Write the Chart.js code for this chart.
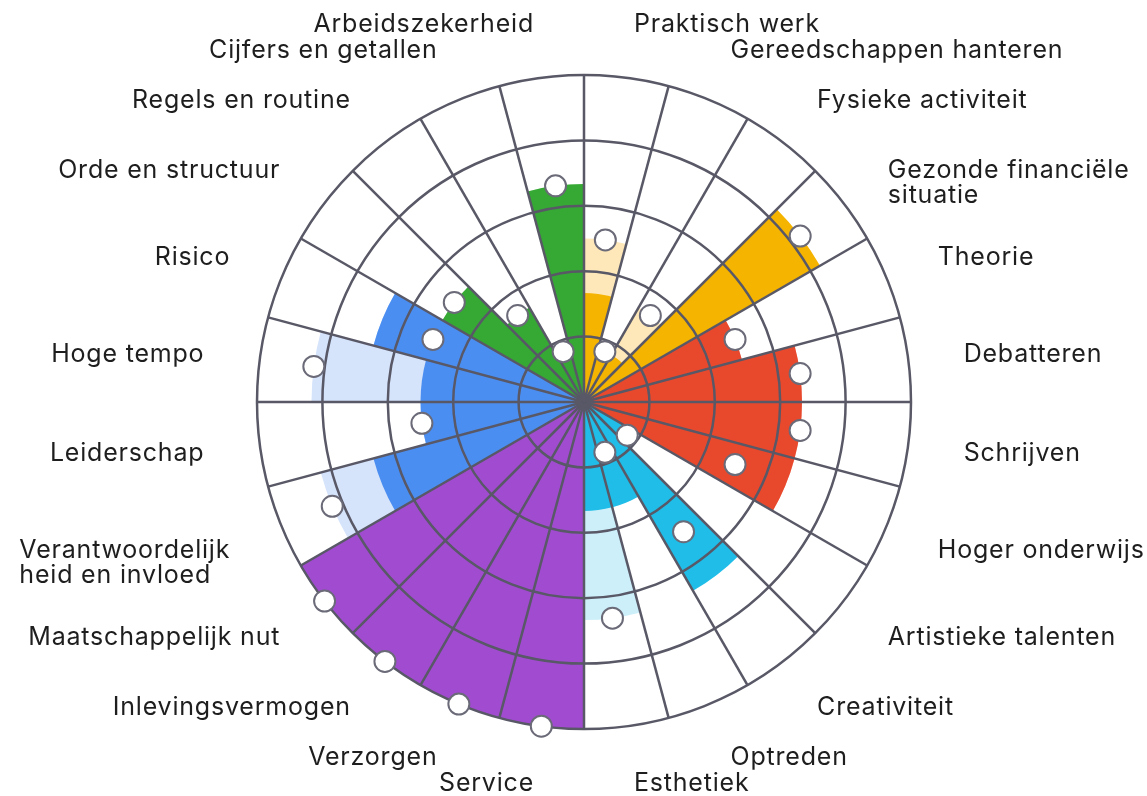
<!DOCTYPE html>
<html>
<head>
<meta charset="utf-8">
<script src="https://cdn.jsdelivr.net/npm/chart.js@4.4.1/dist/chart.umd.min.js"></script>
<style>
  html, body { margin: 0; padding: 0; background: #ffffff; }
  canvas { display: block; }
</style>
</head>
<body>
<canvas id="chart" width="1147" height="796"></canvas>
<script>
// Categories, clockwise from 12 o'clock
const categories = [
  'Praktisch werk', 'Gereedschappen hanteren', 'Fysieke activiteit', ['Gezonde financiële', 'situatie'],
  'Theorie', 'Debatteren', 'Schrijven', 'Hoger onderwijs',
  'Artistieke talenten', 'Creativiteit', 'Optreden', 'Esthetiek',
  'Service', 'Verzorgen', 'Inlevingsvermogen', 'Maatschappelijk nut',
  ['Verantwoordelijk', 'heid en invloed'], 'Leiderschap', 'Hoge tempo', 'Risico',
  'Orde en structuur', 'Regels en routine', 'Cijfers en getallen', 'Arbeidszekerheid'
];
// Scores on a 0-6 scale
const coreValues     = [2, 1, 1, 5, 3, 4, 4, 4, 1, 4, 2, 2, 6, 6, 6, 6, 4, 3, 3, 4, 3, 2, 1, 4];
const extendedValues = [3, 1, 2, 5, 3, 4, 4, 4, 1, 4, 2, 4, 6, 6, 6, 6, 5, 3, 5, 4, 3, 2, 1, 4];
const markerValues   = [3, 1, 2, 5, 3, 4, 4, 3, 1, 3, 1, 4, 6, 6, 6, 6, 5, 3, 5, 3, 3, 2, 1, 4];
const scaleMax = 6;

// Styles
const darkColors = [
  '#F5B400', '#F5B400', '#F5B400', '#F5B400',
  '#E8492D', '#E8492D', '#E8492D', '#E8492D',
  '#1FBDE7', '#1FBDE7', '#1FBDE7', '#1FBDE7',
  '#A14BD1', '#A14BD1', '#A14BD1', '#A14BD1',
  '#4B8EF1', '#4B8EF1', '#4B8EF1', '#4B8EF1',
  '#36A934', '#36A934', '#36A934', '#36A934'
];
const lightColors = [
  '#FEE8B9', '#FEE8B9', '#FEE8B9', '#FEE8B9',
  '#F7C3B8', '#F7C3B8', '#F7C3B8', '#F7C3B8',
  '#CDEFFA', '#CDEFFA', '#CDEFFA', '#CDEFFA',
  '#E3CBF2', '#E3CBF2', '#E3CBF2', '#E3CBF2',
  '#D5E3FB', '#D5E3FB', '#D5E3FB', '#D5E3FB',
  '#CBEBC9', '#CBEBC9', '#CBEBC9', '#CBEBC9'
];
const lineColor = '#585867';

const markerPlugin = {
  id: 'markers',
  afterDraw(chart) {
    const s = chart.scales.r;
    const ctx = chart.ctx;
    const half = Math.PI / categories.length;
    ctx.save();
    markerValues.forEach((v, i) => {
      const p = s.getPointPosition(i, s.getDistanceFromCenterForValue(v), half);
      ctx.beginPath();
      ctx.arc(p.x, p.y, 10.5, 0, Math.PI * 2);
      ctx.fillStyle = '#ffffff';
      ctx.fill();
      ctx.lineWidth = 2;
      ctx.strokeStyle = '#6A6A78';
      ctx.stroke();
    });
    ctx.restore();
  }
};

const labelPlugin = {
  id: 'sectorLabels',
  afterDraw(chart) {
    const s = chart.scales.r;
    const ctx = chart.ctx;
    const half = Math.PI / categories.length;
    ctx.save();
    ctx.font = '25px Inter, "Open Sans", sans-serif';
    if ('letterSpacing' in ctx) ctx.letterSpacing = '0.8px';
    ctx.fillStyle = '#1E1E1E';
    ctx.textBaseline = 'middle';
    ctx.textAlign = 'left';
    categories.forEach((lab, i) => {
      const lines = Array.isArray(lab) ? lab : [lab];
      const p = s.getPointPosition(i, s.drawingArea * 1.171, half);
      const w = Math.max(...lines.map(l => ctx.measureText(l).width));
      const x0 = p.x >= s.xCenter ? p.x : p.x - w;
      lines.forEach((l, k) => ctx.fillText(l, x0, p.y + 2 + k * 25));
    });
    ctx.restore();
  }
};

new Chart(document.getElementById('chart'), {
  type: 'polarArea',
  data: {
    labels: categories,
    datasets: [
      { label: 'kern', data: coreValues, backgroundColor: darkColors, borderWidth: 0 },
      { label: 'uitgebreid', data: extendedValues, backgroundColor: lightColors, borderWidth: 0 }
    ]
  },
  options: {
    responsive: false,
    animation: false,
    layout: { padding: { top: 75, bottom: 67, left: 257, right: 236 } },
    plugins: { legend: { display: false }, tooltip: { enabled: false } },
    scales: {
      r: {
        min: 0,
        max: scaleMax,
        startAngle: 0,
        ticks: { display: false, count: 6 },
        grid: { display: true, circular: true, color: lineColor, lineWidth: 2.5, z: 1 },
        angleLines: { display: true, color: lineColor, lineWidth: 2.5 },
        pointLabels: { display: false }
      }
    }
  },
  plugins: [markerPlugin, labelPlugin]
});
</script>
</body>
</html>
